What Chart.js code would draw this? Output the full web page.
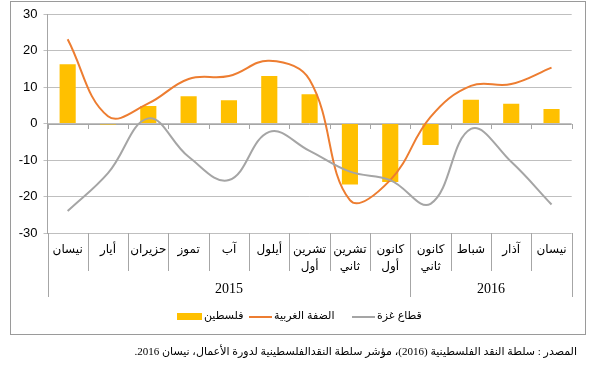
<!DOCTYPE html>
<html>
<head>
<meta charset="utf-8">
<script src="https://cdn.jsdelivr.net/npm/chart.js@4.4.0/dist/chart.umd.min.js"></script>
<style>
  html, body { margin: 0; padding: 0; background: #fff; }
  #wrap { position: relative; width: 614px; height: 365px; }
  canvas { position: absolute; left: 0; top: 0; }
  #src { position: absolute; right: 37px; top: 345px; font: 11px 'Liberation Serif', 'DejaVu Sans', serif; color: #000; white-space: nowrap; }
</style>
</head>
<body>
<div id="wrap">
  <canvas id="c" width="614" height="365"></canvas>
  <div id="src" dir="rtl">المصدر : سلطة النقد الفلسطينية (2016)، مؤشر سلطة النقدالفلسطينية لدورة الأعمال، نيسان 2016.</div>
</div>
<script>
const categories = ['نيسان', 'أيار', 'حزيران', 'تموز', 'آب', 'أيلول', ['تشرين', 'أول'], ['تشرين', 'ثاني'], ['كانون', 'أول'], ['كانون', 'ثاني'], 'شباط', 'آذار', 'نيسان'];
const years = ['2015', '2016'];
const yearSpans = [9, 4];
const palestine = [16.2, -0.3, 4.8, 7.5, 6.4, 13.0, 8.0, -16.7, -16.0, -5.9, 6.5, 5.4, 4.0];
const westBank = [23.1, 2.0, 5.5, 12.2, 13.0, 17.2, 12.0, -21.0, -15.5, 1.8, 10.3, 10.8, 15.3];
const gaza = [-24.0, -13.6, 1.4, -9.1, -15.5, -2.3, -7.5, -13.2, -15.5, -22.0, -1.5, -10.5, -22.2];
const yTicks = [-30, -20, -10, 0, 10, 20, 30];
const seriesNames = ['فلسطين', 'الضفة الغربية', 'قطاع غزة'];

const GRID = '#BFBFBF';
const AXIS = '#A6A6A6';
const ARFONT = "'Liberation Sans', 'DejaVu Sans', sans-serif";
const legendX = [177, 249, 352];

const decor = {
  id: 'decor',
  beforeDraw(chart) {
    const ctx = chart.ctx;
    ctx.save();
    ctx.fillStyle = '#fff';
    ctx.fillRect(0, 0, chart.width, chart.height);
    ctx.strokeStyle = '#9A9A9A';
    ctx.lineWidth = 1;
    ctx.strokeRect(10.5, 1.5, 575, 333);
    ctx.restore();
  },
  beforeDatasetsDraw(chart) {
    const ctx = chart.ctx;
    const x = chart.scales.x, y = chart.scales.y;
    const n = categories.length;
    const y0 = y.getPixelForValue(0);
    ctx.save();
    ctx.strokeStyle = AXIS;
    ctx.lineWidth = 1;
    ctx.beginPath();
    ctx.moveTo(x.left, Math.round(y0) + 0.5);
    ctx.lineTo(x.right, Math.round(y0) + 0.5);
    for (let i = 0; i <= n; i++) {
      const px = Math.round(x.getPixelForValue(i - 0.5)) + 0.5;
      ctx.moveTo(px, Math.round(y0));
      ctx.lineTo(px, Math.round(y0) + 5);
    }
    ctx.stroke();
    ctx.restore();
  },
  afterDraw(chart) {
    const ctx = chart.ctx;
    const x = chart.scales.x;
    const n = categories.length;
    const bottom = chart.chartArea.bottom;
    ctx.save();
    ctx.strokeStyle = AXIS;
    ctx.lineWidth = 1;
    ctx.beginPath();
    const longs = [0];
    let acc = 0;
    yearSpans.forEach(s => { acc += s; longs.push(acc); });
    for (let i = 0; i <= n; i++) {
      const px = Math.round(x.getPixelForValue(i - 0.5)) + 0.5;
      ctx.moveTo(px, bottom);
      ctx.lineTo(px, longs.includes(i) ? 297 : 271);
    }
    ctx.stroke();
    // year labels
    ctx.fillStyle = '#000';
    ctx.font = "14px 'Liberation Serif', serif";
    ctx.textAlign = 'center';
    ctx.textBaseline = 'middle';
    let start = 0;
    years.forEach((yr, k) => {
      const a = x.getPixelForValue(start - 0.5);
      const b = x.getPixelForValue(start + yearSpans[k] - 0.5);
      ctx.fillText(yr, (a + b) / 2, 289);
      start += yearSpans[k];
    });
    // legend
    const ds = chart.data.datasets;
    ctx.font = '11px ' + ARFONT;
    ctx.textAlign = 'left';
    const symW = 23;
    const ly = 316;
    ds.forEach((d, k) => {
      const lx = legendX[k];
      if (d.type === 'bar') {
        ctx.fillStyle = d.backgroundColor;
        ctx.fillRect(lx, ly - 3, 25, 7);
      } else {
        ctx.strokeStyle = d.borderColor;
        ctx.lineWidth = 2;
        ctx.beginPath();
        ctx.moveTo(lx, ly + 1);
        ctx.lineTo(lx + symW, ly + 1);
        ctx.stroke();
      }
      ctx.fillStyle = '#000';
      ctx.fillText(d.label, lx + (d.type === 'bar' ? 27 : symW + 2), ly);
    });
    ctx.restore();
  }
};

new Chart(document.getElementById('c'), {
  data: {
    labels: categories,
    datasets: [
      { type: 'bar', label: seriesNames[0], data: palestine, backgroundColor: '#FFC000', barPercentage: 0.4, categoryPercentage: 1.0, order: 2 },
      { type: 'line', label: seriesNames[1], data: westBank, borderColor: '#ED7D31', borderWidth: 2, pointRadius: 0, tension: 0.4, fill: false, order: 1 },
      { type: 'line', label: seriesNames[2], data: gaza, borderColor: '#A5A5A5', borderWidth: 2, pointRadius: 0, tension: 0.4, fill: false, order: 0 }
    ]
  },
  options: {
    responsive: false,
    animation: false,
    layout: { padding: { left: 10, right: 42.3, top: 14, bottom: 32 } },
    plugins: { legend: { display: false }, tooltip: { enabled: false } },
    scales: {
      x: {
        type: 'category',
        offset: true,
        grid: { display: false, drawTicks: false },
        border: { display: false },
        ticks: { color: '#000', font: { size: 12, family: ARFONT, lineHeight: 1.4 }, padding: 8, maxRotation: 0, autoSkip: false },
        afterFit(s) { s.height = 100; }
      },
      y: {
        min: -30, max: 30,
        afterBuildTicks(s) { s.ticks = yTicks.map(v => ({ value: v })); },
        grid: { color: GRID, tickLength: 4, tickColor: GRID },
        border: { display: true, color: AXIS },
        ticks: { color: '#000', font: { size: 13, family: "'Liberation Sans', sans-serif" }, padding: 6 },
        afterFit(s) { s.width = 37.5; }
      }
    }
  },
  plugins: [decor]
});
</script>
</body>
</html>
